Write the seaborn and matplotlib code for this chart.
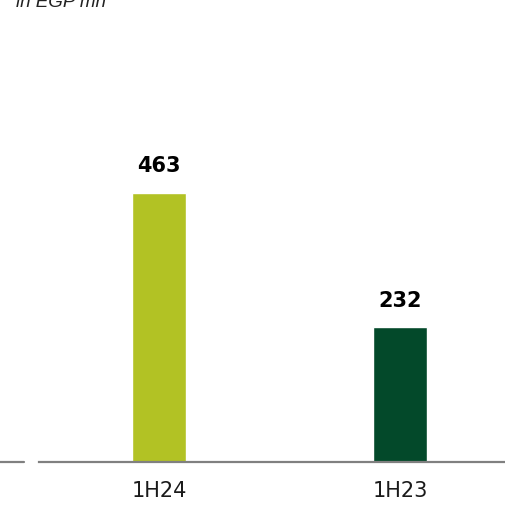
import matplotlib
matplotlib.use("Agg")
import matplotlib.pyplot as plt
from matplotlib.lines import Line2D
import seaborn as sns
import pandas as pd

# Net profit by half-year, EGP mn
periods = ["1H24", "1H23"]
values = [463, 232]
bar_colors = ["#B2C224", "#03492A"]

sns.set_theme(style="white")
plt.rcParams["font.family"] = ["DejaVu Sans"]

df = pd.DataFrame({"period": periods, "value": values})

fig = plt.figure(figsize=(5.06, 5.09), dpi=100)
ax = fig.add_axes([39 / 506, 47 / 509, 467 / 506, 462 / 509])

sns.barplot(data=df, x="period", y="value", hue="period", palette=bar_colors,
            width=0.224, legend=False, ax=ax, saturation=1)

ax.set_xlim(-0.498, 1.44)
ax.set_ylim(0, 795)

for container in ax.containers:
    ax.bar_label(container, fmt="%d", padding=12, fontsize=15,
                 fontweight="bold", color="black")

for s in ["top", "left", "right"]:
    ax.spines[s].set_visible(False)
ax.spines["bottom"].set_color("#808080")
ax.spines["bottom"].set_linewidth(1.6)
ax.set_yticks([])
ax.set_xlabel("")
ax.set_ylabel("")
ax.tick_params(axis="x", length=0, pad=14, labelsize=15, labelcolor="#1a1a1a")

# short detached stub of the baseline at the left edge
fig.add_artist(Line2D([0, 24 / 506], [47 / 509, 47 / 509], color="#808080",
                      lw=1.6, transform=fig.transFigure))

fig.text(16 / 506, 1 - 7 / 509, "in EGP mn", fontsize=13.5, style="italic",
         family=["Liberation Sans", "DejaVu Sans"], color="#222222",
         ha="left", va="baseline")

fig.savefig("out.png", dpi=100)
